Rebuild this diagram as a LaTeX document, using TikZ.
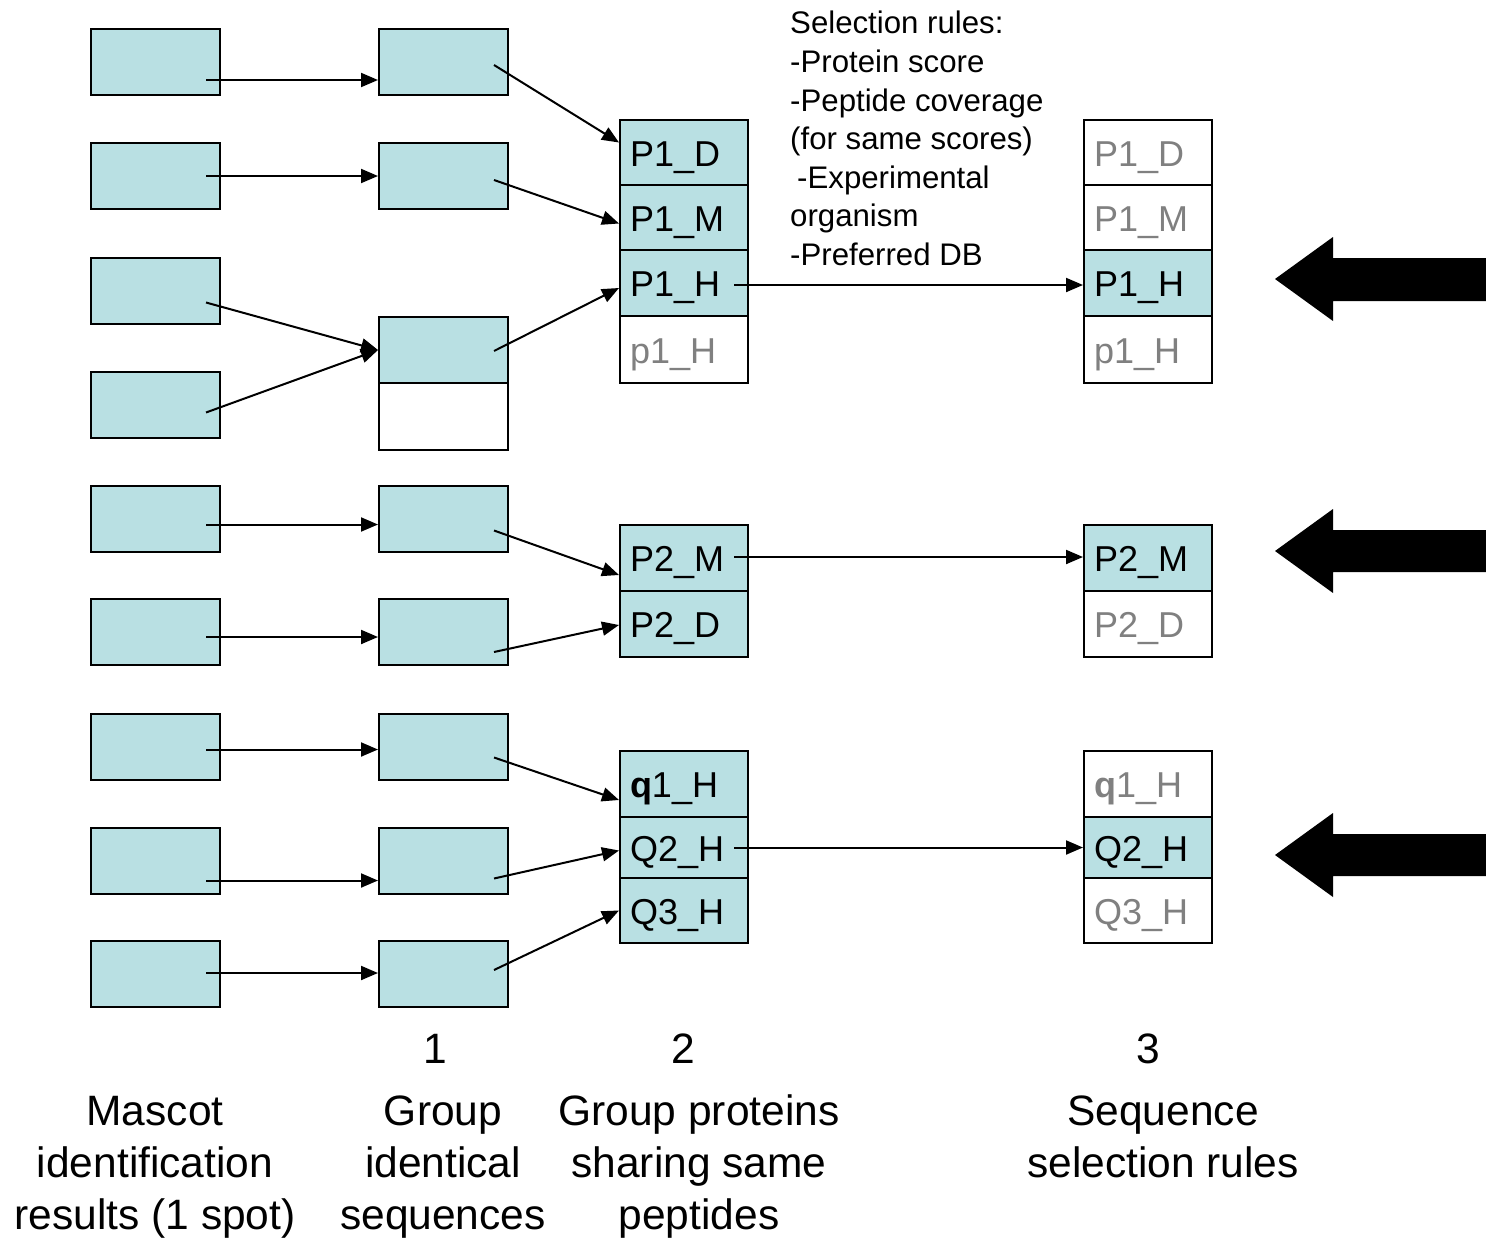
\documentclass[tikz,border=0pt]{standalone}
\usepackage{fontspec}
\setmainfont{Liberation Sans}
\usetikzlibrary{arrows.meta}
\definecolor{boxfill}{RGB}{185,224,227}
\definecolor{dimtext}{RGB}{128,128,128}
\newcommand\cellfont{\fontsize{36}{42}\selectfont}
\newcommand\notefont{\fontsize{31.2}{38.6}\selectfont}
\newcommand\capfont{\fontsize{42.5}{52}\selectfont}

\begin{document}
\begin{tikzpicture}[x=1pt,y=-1pt,
  spot/.style={draw, line width=2pt, fill=boxfill, minimum width=129, minimum height=66, inner sep=0},
  blank/.style={draw, line width=2pt, fill=white, minimum width=129, minimum height=67, inner sep=0},
  cell/.style={draw, line width=2pt, fill=boxfill, inner xsep=10, inner ysep=0, text width=108,
    text height=30, text depth=3, align=left, font=\cellfont},
  cellw/.style={cell, fill=white, text=dimtext},
  conn/.style={line width=2pt, -{Triangle[length=17pt,width=14pt]}},
  bigarrow/.style={fill=black},
  caption/.style={font=\capfont, align=center, inner sep=0}]

\useasboundingbox (0,0) rectangle (1486,1237);

% Mascot identification results
\foreach \i/\y in {1/62,2/176,3/290.5,4/404.5,5/518.5,6/632,7/746.5,8/860.5,9/974}
  \node[spot] (m\i) at (155.5,\y) {};

% Groups of identical sequences
\foreach \i/\y in {1/62,2/176,5/518.5,6/632,7/746.5,8/860.5,9/974}
  \node[spot] (g\i) at (443.5,\y) {};
\node[spot] (g34) at (443.5,350) {};
\node[blank] (g34b) at (443.5,416.5) {};

% Proteins sharing the same peptides
\node[cell, minimum height=65] (c1d) at (684,152.5) {P1\_D};
\node[cell, minimum height=65] (c1m) at (684,217.5) {P1\_M};
\node[cell, minimum height=66] (c1h) at (684,283) {P1\_H};
\node[cellw, minimum height=67] (c1p) at (684,349.5) {p1\_H};
\node[cell, minimum height=66] (c2m) at (684,558) {P2\_M};
\node[cell, minimum height=66] (c2d) at (684,624) {P2\_D};
\node[cell, minimum height=66] (c3q1) at (684,784) {\textbf{q}1\_H};
\node[cell, minimum height=61] (c3q2) at (684,847.5) {Q2\_H};
\node[cell, minimum height=65] (c3q3) at (684,910.5) {Q3\_H};

% Sequences after the selection rules
\node[cellw, minimum height=65] (s1d) at (1148,152.5) {P1\_D};
\node[cellw, minimum height=65] (s1m) at (1148,217.5) {P1\_M};
\node[cell, minimum height=66] (s1h) at (1148,283) {P1\_H};
\node[cellw, minimum height=67] (s1p) at (1148,349.5) {p1\_H};
\node[cell, minimum height=66] (s2m) at (1148,558) {P2\_M};
\node[cellw, minimum height=66] (s2d) at (1148,624) {P2\_D};
\node[cellw, minimum height=66] (s3q1) at (1148,784) {\textbf{q}1\_H};
\node[cell, minimum height=61] (s3q2) at (1148,847.5) {Q2\_H};
\node[cellw, minimum height=65] (s3q3) at (1148,910.5) {Q3\_H};

% Start points of the connectors, inside the boxes
\coordinate (a1) at ([shift={(-15,18)}]m1.east);
\coordinate (a2) at ([shift={(-15,0)}]m2.east);
\coordinate (a3) at ([shift={(-15,12)}]m3.east);
\coordinate (a4) at ([shift={(-15,8)}]m4.east);
\coordinate (a5) at ([shift={(-15,6)}]m5.east);
\coordinate (a6) at ([shift={(-15,5)}]m6.east);
\coordinate (a7) at ([shift={(-15,3)}]m7.east);
\coordinate (a8) at ([shift={(-15,20)}]m8.east);
\coordinate (a9) at ([shift={(-15,-1)}]m9.east);

\coordinate (b1) at ([shift={(-15,3)}]g1.east);
\coordinate (b2) at ([shift={(-15,4)}]g2.east);
\coordinate (b34) at ([shift={(-15,1)}]g34.east);
\coordinate (b5) at ([shift={(-15,12)}]g5.east);
\coordinate (b6) at ([shift={(-15,20)}]g6.east);
\coordinate (b7) at ([shift={(-15,11)}]g7.east);
\coordinate (b8) at ([shift={(-15,18)}]g8.east);
\coordinate (b9) at ([shift={(-15,-4)}]g9.east);

\coordinate (k1) at ([shift={(-15,2)}]c1h.east);
\coordinate (k2) at ([shift={(-15,-1)}]c2m.east);
\coordinate (k3) at ([shift={(-15,0)}]c3q2.east);

% Step 1 connectors
\draw[conn] (a1) -- (a1 -| g1.west);
\draw[conn] (a2) -- (a2 -| g2.west);
\draw[conn] (a3) -- (g34.west);
\draw[conn] (a4) -- (g34.west);
\draw[conn] (a5) -- (a5 -| g5.west);
\draw[conn] (a6) -- (a6 -| g6.west);
\draw[conn] (a7) -- (a7 -| g7.west);
\draw[conn] (a8) -- (a8 -| g8.west);
\draw[conn] (a9) -- (a9 -| g9.west);

% Step 2 connectors
\draw[conn] (b1) -- ([shift={(0,-10)}]c1d.west);
\draw[conn] (b2) -- ([shift={(0,6)}]c1m.west);
\draw[conn] (b34) -- ([shift={(0,5)}]c1h.west);
\draw[conn] (b5) -- ([shift={(0,17)}]c2m.west);
\draw[conn] (b6) -- ([shift={(0,1)}]c2d.west);
\draw[conn] (b7) -- ([shift={(0,16)}]c3q1.west);
\draw[conn] (b8) -- ([shift={(0,3)}]c3q2.west);
\draw[conn] (b9) -- (c3q3.west);

% Step 3 connectors
\draw[conn] (k1) -- (k1 -| s1h.west);
\draw[conn] (k2) -- (k2 -| s2m.west);
\draw[conn] (k3) -- (k3 -| s3q2.west);

% Selection rules
\node[font=\notefont, align=left, anchor=north west, inner sep=0] (rules) at (790,11)
  {Selection rules:\\-Protein score\\-Peptide coverage\\(for same scores)\\\hspace*{7pt}-Experimental\\organism\\-Preferred DB};

% Heavy arrows marking the selected sequences
\fill[bigarrow] (1486,258) -- (1333,258) -- (1333,237) -- (1275,279) -- (1333,321) -- (1333,301) -- (1486,301) -- cycle;
\fill[bigarrow] (1486,530) -- (1333,530) -- (1333,509) -- (1275,551) -- (1333,593) -- (1333,572) -- (1486,572) -- cycle;
\fill[bigarrow] (1486,834) -- (1333,834) -- (1333,813) -- (1275,855) -- (1333,897) -- (1333,876) -- (1486,876) -- cycle;

% Step numbers and captions
\node[caption, anchor=base] (n1) at (435,1063) {1};
\node[caption, anchor=base] (n2) at (683,1063) {2};
\node[caption, anchor=base] (n3) at (1148,1063) {3};

\node[caption, anchor=base] (t0) at (155,1229) {Mascot\\identification\\results (1 spot)};
\node[caption, anchor=base] (t1) at (443,1229) {Group\\identical\\sequences};
\node[caption, anchor=base] (t2) at (699,1229) {Group proteins\\sharing same\\peptides};
\node[caption, anchor=base] (t3) at (1163,1177) {Sequence\\selection rules};
\end{tikzpicture}
\end{document}
